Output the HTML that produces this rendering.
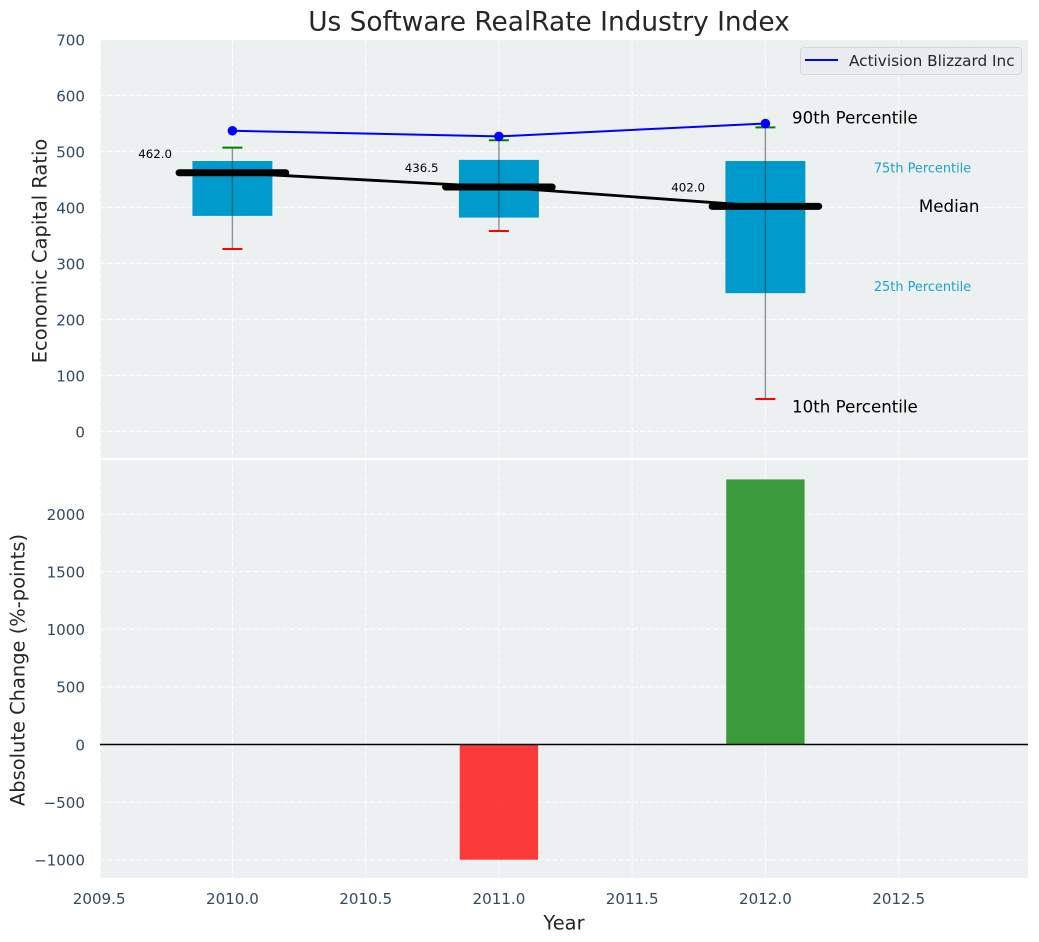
<!DOCTYPE html>
<html lang="en">
<head>
<meta charset="utf-8">
<title>Us Software RealRate Industry Index</title>
<style>
html,body{margin:0;padding:0;background:#fff;width:1039px;height:942px;overflow:hidden}
svg{display:block;font-family:"DejaVu Sans","Liberation Sans",sans-serif}
</style>
</head>
<body>
<svg id="chart" xmlns="http://www.w3.org/2000/svg" width="1039" height="942" viewBox="0 0 1039 942">
  <rect x="100" y="40" width="928" height="418" fill="#ecf0f1"/>
  <rect x="100" y="460" width="928" height="418" fill="#ecf0f1"/>
  <g id="grid"></g>
  <g id="bars"></g>
  <line x1="100" x2="1028" y1="744.5" y2="744.5" stroke="#000" stroke-width="1.4"/>
  <g id="boxes"></g>
  <g id="ticks"></g>
  <text x="549" y="22" font-size="26.4" fill="#262626" text-anchor="middle" dominant-baseline="central">Us Software RealRate Industry Index</text>
  <text transform="translate(40 251) rotate(-90)" font-size="19.44" fill="#262626" text-anchor="middle" dominant-baseline="central">Economic Capital Ratio</text>
  <text transform="translate(18 670) rotate(-90)" font-size="19.44" fill="#262626" text-anchor="middle" dominant-baseline="central">Absolute Change (%-points)</text>
  <text x="564" y="923" font-size="19.44" fill="#262626" text-anchor="middle" dominant-baseline="central">Year</text>
  <g>
    <rect x="800.5" y="47.5" width="221" height="27" rx="3" fill="#ebecf1" stroke="#d5d6dc" stroke-width="1"/>
    <line x1="805" x2="838" y1="60" y2="60" stroke="#0000ff" stroke-width="2"/>
    <text x="849" y="61" font-size="15.28" fill="#262626" dominant-baseline="central">Activision Blizzard Inc</text>
  </g>
</svg>
<script>
const years = [2010, 2011, 2012];
const medianValues = [462, 436.5, 402];
const p75Values = [483, 485, 483];
const p25Values = [385, 382, 247];
const p90Values = [507, 520, 543];
const p10Values = [326, 358, 58];
const companyValues = [537, 527, 550];
const changeValues = [0, -1000, 2300];
const xTickLabels = ["2009.5", "2010.0", "2010.5", "2011.0", "2011.5", "2012.0", "2012.5"];
const topYTickLabels = ["0", "100", "200", "300", "400", "500", "600", "700"];
const bottomYTickLabels = ["-1000", "-500", "0", "500", "1000", "1500", "2000"];

const xScale = v => 232.4 + (v - 2010) * 266.5;
const yTop = v => 431.5 - v * 0.56;
const yBottom = v => 744.5 - v * 0.11525;
const NS = "http://www.w3.org/2000/svg";
function mk(parent, tag, attrs, text) {
  const el = document.createElementNS(NS, tag);
  for (const k in attrs) el.setAttribute(k, attrs[k]);
  if (text !== undefined) el.textContent = text;
  parent.appendChild(el);
  return el;
}
const gridG = document.getElementById("grid");
const ticksG = document.getElementById("ticks");
const barsG = document.getElementById("bars");
const boxesG = document.getElementById("boxes");
const gridStyle = { stroke: "#ffffff", "stroke-width": 1.2, "stroke-opacity": 0.8, "stroke-dasharray": "5.1 2.2", fill: "none" };
const tickFont = { "font-size": 15.1, fill: "#34495e", "dominant-baseline": "central" };

xTickLabels.forEach(label => {
  const x = xScale(parseFloat(label));
  const xl = Math.max(x, 100.5);
  const top = mk(gridG, "line", { x1: xl, x2: xl, y1: 40, y2: 458, ...gridStyle });
  
  
  const bot = mk(gridG, "line", { x1: xl, x2: xl, y1: 460, y2: 878, ...gridStyle });
  
  
  const t = mk(ticksG, "text", { x: x, y: 899, "text-anchor": "middle", ...tickFont }, label);
  
  
});
topYTickLabels.forEach(label => {
  const y = yTop(parseFloat(label));
  const line = mk(gridG, "line", { x1: 100, x2: 1028, y1: y, y2: y, ...gridStyle });
  
  
  const t = mk(ticksG, "text", { x: 85, y: y + 0.8, "text-anchor": "end", ...tickFont }, label);
  
  
});
bottomYTickLabels.forEach(label => {
  const y = yBottom(parseFloat(label));
  const line = mk(gridG, "line", { x1: 100, x2: 1028, y1: y, y2: y, ...gridStyle });
  
  
  const t = mk(ticksG, "text", { x: 85, y: y + 0.8, "text-anchor": "end", ...tickFont }, label.replace("-", "\u2212"));
  
  
});

changeValues.forEach((v, i) => {
  if (v === 0) return;
  const y0 = yBottom(0), y1 = yBottom(v);
  const bar = mk(barsG, "rect", {
    x: xScale(years[i] - 0.147), width: xScale(years[i] + 0.147) - xScale(years[i] - 0.147),
    y: Math.min(y0, y1), height: Math.abs(y1 - y0),
    fill: v > 0 ? "#008000" : "#ff0000", "fill-opacity": 0.76
  });
  
  
});

years.forEach((yr, i) => {
  const box = mk(boxesG, "rect", {
    x: xScale(yr - 0.15), width: xScale(yr + 0.15) - xScale(yr - 0.15),
    y: yTop(p75Values[i]), height: yTop(p25Values[i]) - yTop(p75Values[i]),
    fill: "#009bcc"
  });
  
  
});

const medianPath = mk(boxesG, "polyline", {
  points: years.map((yr, i) => xScale(yr) + "," + yTop(medianValues[i])).join(" "),
  fill: "none", stroke: "#000", "stroke-width": 2.78
});



years.forEach((yr, i) => {
  const x = xScale(yr);
  const w = mk(boxesG, "line", { x1: x, x2: x, y1: yTop(p90Values[i]), y2: yTop(p10Values[i]), stroke: "#2a2a2a", "stroke-opacity": 0.5, "stroke-width": 1.4 });
  
  
  const hi = mk(boxesG, "line", { x1: x - 10, x2: x + 10, y1: yTop(p90Values[i]), y2: yTop(p90Values[i]), stroke: "#008000", "stroke-width": 2 });
  
  
  const lo = mk(boxesG, "line", { x1: x - 10, x2: x + 10, y1: yTop(p10Values[i]), y2: yTop(p10Values[i]), stroke: "#ff0000", "stroke-width": 2 });
  
  
  const med = mk(boxesG, "line", { x1: xScale(yr - 0.2), x2: xScale(yr + 0.2), y1: yTop(medianValues[i]), y2: yTop(medianValues[i]), stroke: "#000", "stroke-width": 7, "stroke-linecap": "round" });
  
  
  const lab = mk(boxesG, "text", { x: xScale(yr - 0.29), y: yTop(medianValues[i]) - 19, "font-size": 11.8, fill: "#000", "text-anchor": "middle", "dominant-baseline": "central" }, medianValues[i].toFixed(1));
  
  
});

const company = mk(boxesG, "polyline", {
  points: years.map((yr, i) => xScale(yr) + "," + yTop(companyValues[i])).join(" "),
  fill: "none", stroke: "#0000ff", "stroke-width": 2
});


years.forEach((yr, i) => {
  const dot = mk(boxesG, "circle", { cx: xScale(yr), cy: yTop(companyValues[i]), r: 4.8, fill: "#0000ff" });
  
  
});

const last = years.length - 1;
const lastX = years[last];
const a90 = mk(boxesG, "text", { x: xScale(lastX + 0.1), y: yTop(p90Values[last]) - 9.5, "font-size": 16.67, fill: "#000", "dominant-baseline": "central" }, "90th Percentile");


const a10 = mk(boxesG, "text", { x: xScale(lastX + 0.1), y: yTop(p10Values[last]) + 8, "font-size": 16.67, fill: "#000", "dominant-baseline": "central" }, "10th Percentile");


const aMed = mk(boxesG, "text", { x: xScale(lastX + 0.576), y: yTop(medianValues[last]), "font-size": 16.67, fill: "#000", "dominant-baseline": "central" }, "Median");


const a75 = mk(boxesG, "text", { x: xScale(lastX + 0.407), y: yTop(p75Values[last]) + 8, "font-size": 12.9, fill: "#1ea3cc", "dominant-baseline": "central" }, "75th Percentile");


const a25 = mk(boxesG, "text", { x: xScale(lastX + 0.407), y: yTop(p25Values[last]) - 5.5, "font-size": 12.9, fill: "#1ea3cc", "dominant-baseline": "central" }, "25th Percentile");


</script>
</body>
</html>
